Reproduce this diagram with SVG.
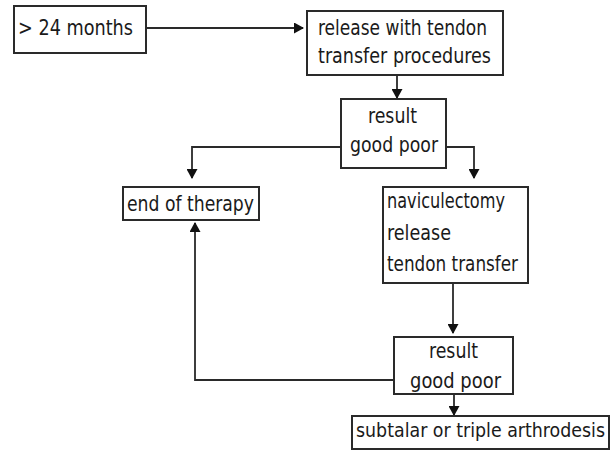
<svg xmlns="http://www.w3.org/2000/svg" width="616" height="451" viewBox="0 0 616 451">
<style>
.box{fill:#fff;stroke:#2a2a2a;stroke-width:2}
.t{font-family:"DejaVu Sans Condensed","DejaVu Sans",sans-serif;font-stretch:condensed;font-size:22px;fill:#1a1a1a}
.ln{fill:none;stroke:#2a2a2a;stroke-width:1.8}
</style>
<defs>
<marker id="ah" markerWidth="10" markerHeight="11" refX="9" refY="5.5" orient="auto" markerUnits="userSpaceOnUse">
<path d="M0,0 L10,5.5 L0,11 Z" fill="#111"/>
</marker>
</defs>
<rect width="616" height="451" fill="#fff"/>
<g id="connectors">
<path class="ln" d="M146,28 H303" marker-end="url(#ah)"/>
<path class="ln" d="M397,75 V98" marker-end="url(#ah)"/>
<path class="ln" d="M341,147 H192 V178" marker-end="url(#ah)"/>
<path class="ln" d="M446,147 H474 V178" marker-end="url(#ah)"/>
<path class="ln" d="M453,283 V333" marker-end="url(#ah)"/>
<path class="ln" d="M394,380 H195 V223" marker-end="url(#ah)"/>
<path class="ln" d="M454,394 V415" marker-end="url(#ah)"/>
</g>
<g id="n1"><rect class="box" x="14" y="6" width="132" height="47"/><text class="t" x="18" y="35" textLength="115" lengthAdjust="spacingAndGlyphs">&gt; 24 months</text></g>
<g id="n2"><rect class="box" x="307" y="11" width="196" height="64"/><text class="t" x="318" y="35" textLength="169" lengthAdjust="spacingAndGlyphs">release with tendon</text><text class="t" x="318" y="63" textLength="173" lengthAdjust="spacingAndGlyphs">transfer procedures</text></g>
<g id="n3"><rect class="box" x="341" y="99" width="105" height="69"/><text class="t" x="368" y="123" textLength="49" lengthAdjust="spacingAndGlyphs">result</text><text class="t" x="350" y="152" textLength="88" lengthAdjust="spacingAndGlyphs">good poor</text></g>
<g id="n4"><rect class="box" x="123" y="187" width="136" height="33"/><text class="t" x="127" y="211" textLength="127" lengthAdjust="spacingAndGlyphs">end of therapy</text></g>
<g id="n5"><rect class="box" x="383" y="187" width="145" height="96"/><text class="t" x="387" y="208" textLength="118" lengthAdjust="spacingAndGlyphs">naviculectomy</text><text class="t" x="387" y="240" textLength="64" lengthAdjust="spacingAndGlyphs">release</text><text class="t" x="387" y="271" textLength="131" lengthAdjust="spacingAndGlyphs">tendon transfer</text></g>
<g id="n6"><rect class="box" x="394" y="337" width="119" height="57"/><text class="t" x="429" y="358" textLength="49" lengthAdjust="spacingAndGlyphs">result</text><text class="t" x="410" y="388" textLength="91" lengthAdjust="spacingAndGlyphs">good poor</text></g>
<g id="n7"><rect class="box" x="352" y="416" width="257" height="33"/><text class="t" x="356" y="437" style="font-size:20px" textLength="249" lengthAdjust="spacingAndGlyphs">subtalar or triple arthrodesis</text></g>
</svg>
